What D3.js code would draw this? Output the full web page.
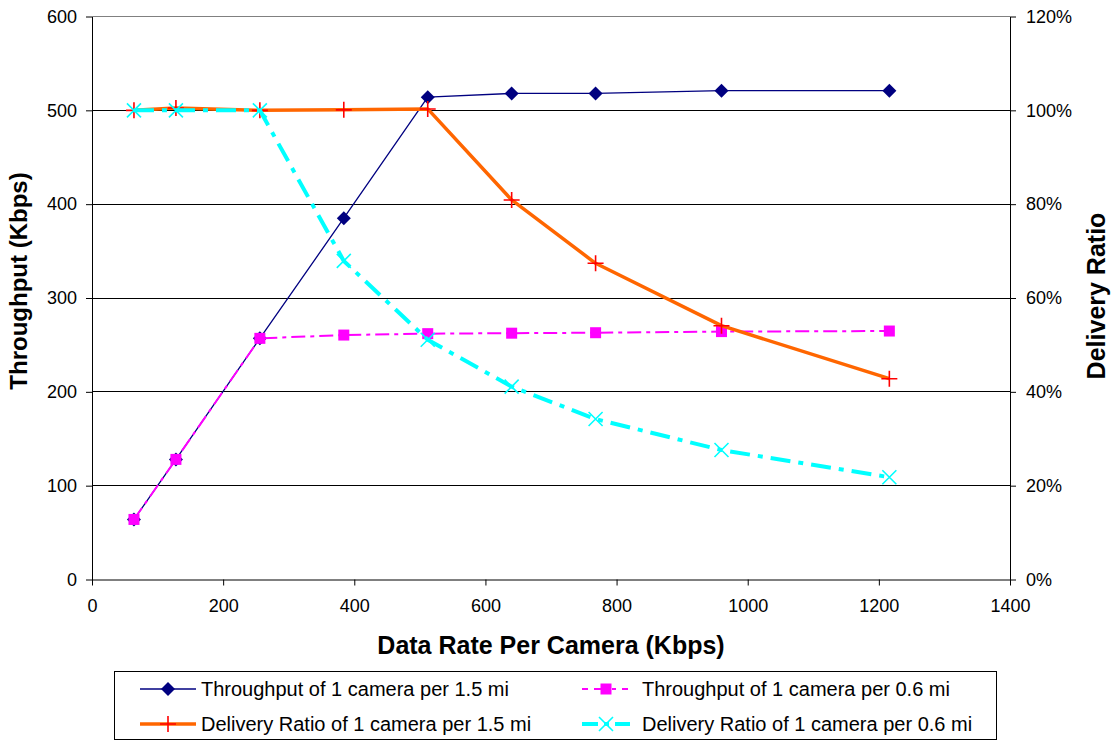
<!DOCTYPE html>
<html>
<head>
<meta charset="utf-8">
<script src="https://cdn.jsdelivr.net/npm/d3@7/dist/d3.min.js"></script>
<style>
  html, body { margin: 0; padding: 0; background: #fff; }
  svg { display: block; font-family: "Liberation Sans", Arial, sans-serif; }
</style>
</head>
<body>
<svg id="chart" width="1114" height="742"></svg>
<script>
// Data rate per camera (Kbps)
const dataRates = [64, 128, 256, 384, 512, 640, 768, 960, 1216];
// Throughput (Kbps), left axis
const throughput15 = [64, 128, 257, 385, 514, 518, 518, 521, 521];
const throughput06 = [64, 128, 257, 260.5, 262, 262.5, 263, 264.2, 264.8];
// Delivery ratio, right axis
const delivery15 = [1.0, 1.005, 1.0, 1.001, 1.003, 0.809, 0.674, 0.541, 0.428];
const delivery06 = [1.0, 1.0, 1.0, 0.679, 0.511, 0.411, 0.342, 0.276, 0.218];

const xTicks = [0, 200, 400, 600, 800, 1000, 1200, 1400];
const yLeftTicks = [0, 100, 200, 300, 400, 500, 600];
const yRightTicks = [0, 0.2, 0.4, 0.6, 0.8, 1.0, 1.2];

const legendNames = [
  "Throughput of 1 camera per 1.5 mi",
  "Throughput of 1 camera per 0.6 mi",
  "Delivery Ratio of 1 camera per 1.5 mi",
  "Delivery Ratio of 1 camera per 0.6 mi"
];

const svg = d3.select("#chart");
const plotL = 92, plotR = 1010, plotT = 16.5, plotB = 579.5;

const x = d3.scaleLinear().domain([0, 1400]).range([plotL, plotR]);
const yL = d3.scaleLinear().domain([0, 600]).range([plotB, plotT]);
const yR = d3.scaleLinear().domain([0, 1.2]).range([plotB, plotT]);

// horizontal gridlines
svg.append("g").selectAll("line").data(yLeftTicks.slice(1)).join("line")
  .attr("x1", plotL).attr("x2", plotR)
  .attr("y1", d => yL(d)).attr("y2", d => yL(d))
  .attr("stroke", d => d === 600 ? "#808080" : "#000")
  .attr("stroke-width", 1)
  .attr("shape-rendering", "crispEdges");

// axes
const axisStyle = g => {
  g.select(".domain").attr("stroke", "#000");
  g.selectAll(".tick line").attr("stroke", "#000");
  g.selectAll("text").attr("font-size", "18px").attr("fill", "#000")
    .attr("font-family", "'Liberation Sans', Arial, sans-serif");
};

svg.append("g").attr("transform", `translate(0,${plotB})`)
  .call(d3.axisBottom(x).tickValues(xTicks).tickSize(6).tickSizeOuter(0).tickPadding(14)
    .tickFormat(d3.format("d")))
  .call(axisStyle);

svg.append("g").attr("transform", `translate(${plotL},0)`)
  .call(d3.axisLeft(yL).tickValues(yLeftTicks).tickSize(6).tickSizeOuter(0).tickPadding(9)
    .tickFormat(d3.format("d")))
  .call(axisStyle);

svg.append("g").attr("transform", `translate(${plotR},0)`)
  .call(d3.axisRight(yR).tickValues(yRightTicks).tickSize(6).tickSizeOuter(0).tickPadding(10)
    .tickFormat(d3.format(".0%")))
  .call(axisStyle);

// axis titles
svg.append("text")
  .attr("x", 551).attr("y", 654)
  .attr("text-anchor", "middle")
  .attr("font-size", "25px").attr("font-weight", "bold")
  .text("Data Rate Per Camera (Kbps)");

svg.append("text")
  .attr("transform", "translate(27,281) rotate(-90)")
  .attr("text-anchor", "middle")
  .attr("font-size", "24px").attr("font-weight", "bold")
  .text("Throughput (Kbps)");

svg.append("text")
  .attr("transform", "translate(1105,296) rotate(-90)")
  .attr("text-anchor", "middle")
  .attr("font-size", "25px").attr("font-weight", "bold")
  .text("Delivery Ratio");

// series definitions
const series = [
  { name: legendNames[0], values: throughput15, y: yL, stroke: "#000080", width: 1.3, dash: null, marker: "diamond", mColor: "#000080" },
  { name: legendNames[1], values: throughput06, y: yL, stroke: "#FF00FF", width: 2, dash: "14,5,4,5", marker: "square", mColor: "#FF00FF" },
  { name: legendNames[2], values: delivery15, y: yR, stroke: "#FF6600", width: 3.5, dash: null, marker: "plus", mColor: "#FF0000" },
  { name: legendNames[3], values: delivery06, y: yR, stroke: "#00FFFF", width: 4, dash: "20,8,5,8", marker: "cross", mColor: "#00FFFF" }
];

function drawMarker(g, type, color) {
  if (type === "diamond") {
    g.append("path").attr("d", "M0,-7L7,0L0,7L-7,0Z").attr("fill", color);
  } else if (type === "square") {
    g.append("rect").attr("x", -5.5).attr("y", -5.5).attr("width", 11).attr("height", 11).attr("fill", color);
  } else if (type === "plus") {
    g.append("path").attr("d", "M-8,0H8M0,-8V8").attr("stroke", color).attr("stroke-width", 1.6).attr("fill", "none");
  } else if (type === "cross") {
    g.append("path").attr("d", "M-7,-7L7,7M-7,7L7,-7").attr("stroke", color).attr("stroke-width", 1.6).attr("fill", "none");
  }
}

series.forEach(s => {
  const pts = dataRates.map((d, i) => [d, s.values[i]]);
  const line = d3.line().x(d => x(d[0])).y(d => s.y(d[1]));
  svg.append("path")
    .datum(pts)
    .attr("d", line)
    .attr("fill", "none")
    .attr("stroke", s.stroke)
    .attr("stroke-width", s.width)
    .attr("stroke-dasharray", s.dash)
    .attr("stroke-linejoin", "round");
  svg.append("g").selectAll("g").data(pts).join("g")
    .attr("transform", d => `translate(${x(d[0])},${s.y(d[1])})`)
    .each(function () { drawMarker(d3.select(this), s.marker, s.mColor); });
});

// legend
const legend = svg.append("g");
legend.append("rect")
  .attr("x", 114.5).attr("y", 671.5).attr("width", 882).attr("height", 68)
  .attr("fill", "#fff").attr("stroke", "#000").attr("stroke-width", 1);

const legendPos = [
  { lx1: 140, lx2: 196, tx: 201, y: 689 },
  { lx1: 582, lx2: 630, tx: 642, y: 689 },
  { lx1: 140, lx2: 196, tx: 201, y: 724 },
  { lx1: 582, lx2: 630, tx: 642, y: 724 }
];

series.forEach((s, i) => {
  const p = legendPos[i];
  const g = legend.append("g");
  g.append("line")
    .attr("x1", p.lx1).attr("x2", p.lx2).attr("y1", p.y).attr("y2", p.y)
    .attr("stroke", s.stroke).attr("stroke-width", s.width)
    .attr("stroke-dasharray", s.dash ? (i === 1 ? "6,6,12,6,4,6" : "16,6,5,6") : null);
  const m = g.append("g").attr("transform", `translate(${(p.lx1 + p.lx2) / 2},${p.y})`);
  drawMarker(m, s.marker, s.mColor);
  g.append("text")
    .attr("x", p.tx).attr("y", p.y).attr("dy", "0.35em")
    .attr("font-size", "20px").attr("fill", "#000")
    .text(s.name);
});
</script>
</body>
</html>
